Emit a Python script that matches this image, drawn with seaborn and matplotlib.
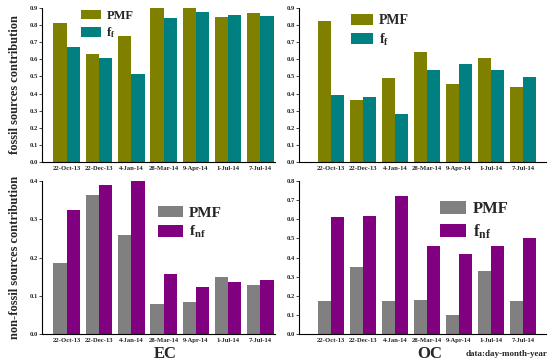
import pandas as pd
import matplotlib
matplotlib.use('Agg')
import matplotlib.pyplot as plt
import seaborn as sns

# Sampling dates (day-month-year)
dates = ['22-Oct-13', '22-Dec-13', '4-Jan-14', '28-Mar-14', '9-Apr-14', '1-Jul-14', '7-Jul-14']

# Fossil contributions
ec_fossil_pmf = [0.81, 0.63, 0.735, 0.90, 0.90, 0.85, 0.87]
ec_fossil_ff = [0.67, 0.605, 0.515, 0.84, 0.875, 0.86, 0.855]
oc_fossil_pmf = [0.825, 0.365, 0.49, 0.645, 0.455, 0.61, 0.44]
oc_fossil_ff = [0.39, 0.38, 0.28, 0.54, 0.575, 0.535, 0.495]

# Non-fossil contributions
ec_nonfossil_pmf = [0.185, 0.365, 0.26, 0.078, 0.083, 0.148, 0.127]
ec_nonfossil_fnf = [0.325, 0.39, 0.40, 0.158, 0.122, 0.135, 0.14]
oc_nonfossil_pmf = [0.175, 0.35, 0.175, 0.18, 0.10, 0.33, 0.175]
oc_nonfossil_fnf = [0.61, 0.615, 0.72, 0.46, 0.42, 0.46, 0.50]

sns.set_style('ticks')
plt.rcParams['font.family'] = ['Liberation Serif', 'DejaVu Serif']
plt.rcParams['font.weight'] = 'bold'
plt.rcParams['mathtext.fontset'] = 'custom'
plt.rcParams['mathtext.rm'] = 'Liberation Serif:bold'
plt.rcParams['mathtext.bf'] = 'Liberation Serif:bold'
plt.rcParams['mathtext.it'] = 'Liberation Serif:bold'

fig = plt.figure(figsize=(5.5, 3.64), dpi=100)

# axes positions in figure fractions [left, bottom, width, height]
ax_tl = fig.add_axes([0.076, 0.555, 0.424, 0.423])
ax_tr = fig.add_axes([0.5436, 0.555, 0.449, 0.423])
ax_bl = fig.add_axes([0.076, 0.0824, 0.424, 0.42])
ax_br = fig.add_axes([0.5436, 0.0824, 0.449, 0.42])

ff_label = r'$\mathbf{f}_\mathbf{f}$'
fnf_label = r'$\mathbf{f}_\mathbf{nf}$'

panels = [
    (ax_tl, ec_fossil_pmf, ec_fossil_ff, ff_label, ['#808000', '#008080'], 0.9, (-0.77, 6.45), (0.17, 0.99), 9),
    (ax_tr, oc_fossil_pmf, oc_fossil_ff, ff_label, ['#808000', '#008080'], 0.9, (-1.0, 6.72), (0.21, 0.96), 10),
    (ax_bl, ec_nonfossil_pmf, ec_nonfossil_fnf, fnf_label, ['#808080', '#800080'], 0.4, (-0.77, 6.45), (0.5, 0.84), 11),
    (ax_br, oc_nonfossil_pmf, oc_nonfossil_fnf, fnf_label, ['#808080', '#800080'], 0.8, (-1.0, 6.72), (0.57, 0.87), 12),
]

for ax, pmf, frac, frac_label, colors, ymax, xlim, leg_pos, leg_fs in panels:
    df = pd.DataFrame({
        'date': dates * 2,
        'value': pmf + frac,
        'method': ['PMF'] * len(dates) + [frac_label] * len(dates),
    })
    sns.barplot(data=df, x='date', y='value', hue='method', palette=colors,
                width=0.82, saturation=1, linewidth=0, edgecolor='none', ax=ax)
    ax.set_ylim(0, ymax)
    ax.set_xlim(*xlim)
    ax.set_yticks([i / 10 for i in range(int(round(ymax * 10)) + 1)])
    ax.yaxis.set_major_formatter(matplotlib.ticker.FormatStrFormatter('%.1f'))
    ax.tick_params(axis='y', labelsize=4.8, length=2, width=0.6, pad=1)
    ax.tick_params(axis='x', labelsize=4.8, length=0, pad=3)
    for lbl in ax.get_xticklabels() + ax.get_yticklabels():
        lbl.set_fontweight('bold')
    ax.set_xlabel('')
    ax.set_ylabel('')
    sns.despine(ax=ax)
    for s in ['left', 'bottom']:
        ax.spines[s].set_linewidth(0.8)
        ax.spines[s].set_color('black')
    ax.legend(loc='upper left', bbox_to_anchor=leg_pos, frameon=False,
              prop={'weight': 'bold', 'size': leg_fs},
              handlelength=1.6, handleheight=0.8, labelspacing=0.3,
              handletextpad=0.4, borderpad=0, borderaxespad=0)

ax_tl.set_ylabel('fossil sources contribution', fontsize=9, fontweight='bold', labelpad=6)
ax_bl.set_ylabel('non-fossil sources contribution', fontsize=9, fontweight='bold', labelpad=6)

fig.text(165 / 550, 1 - 354 / 364, 'EC', fontsize=12, fontweight='bold', ha='center', va='center')
fig.text(430 / 550, 1 - 354 / 364, 'OC', fontsize=12, fontweight='bold', ha='center', va='center')
fig.text(548 / 550, 1 - 354 / 364, 'data:day-month-year', fontsize=6.5, fontweight='bold', ha='right', va='center')

plt.savefig('out.png', dpi=100)
